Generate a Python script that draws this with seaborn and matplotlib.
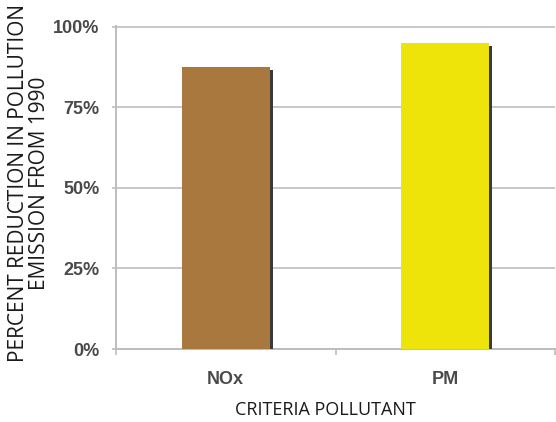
import matplotlib
matplotlib.use("Agg")
import matplotlib.pyplot as plt
from matplotlib.patches import Rectangle
from matplotlib.ticker import PercentFormatter
import seaborn as sns
import pandas as pd

# Data
pollutants = ["NOx", "PM"]
reduction = [0.874, 0.948]
bar_colors = ["#A8783F", "#EEE40A"]
y_ticks = [0, 0.25, 0.5, 0.75, 1.0]

sns.set_theme(style="white")
plt.rcParams["font.family"] = ["Open Sans", "DejaVu Sans"]

df = pd.DataFrame({"pollutant": pollutants, "reduction": reduction})

fig = plt.figure(figsize=(5.56, 4.22), dpi=100)
ax = fig.add_axes([116 / 556, 73 / 422, 439 / 556, 323 / 422])

sns.barplot(data=df, x="pollutant", y="reduction", hue="pollutant",
            palette=bar_colors, saturation=1, width=0.4, legend=False, ax=ax,
            edgecolor="none", linewidth=0, zorder=3)

# thin dark shadow along the right side of each bar
px = 1.0 / 219.5
for patch in ax.patches[:len(pollutants)]:
    x0 = patch.get_x() + patch.get_width()
    h = patch.get_height()
    ax.add_patch(Rectangle((x0, 0), 3 * px, h * 0.99, facecolor="#3a3a3a",
                           edgecolor="none", zorder=3))

ax.set_xlim(-0.5, 1.5)
ax.set_ylim(0, 1.002)
ax.set_yticks(y_ticks)
ax.yaxis.set_major_formatter(PercentFormatter(1.0, decimals=0))
ax.set_xticks([-0.5, 0.5, 1.5], minor=False)
ax.set_xticks([0, 1], minor=True)
ax.set_xticklabels(["", "", ""])
ax.set_xticklabels(pollutants, minor=True)

ax.grid(axis="y", color="#c8c8c8", linewidth=1.4, zorder=0)
ax.set_axisbelow(True)

for side in ["top", "right"]:
    ax.spines[side].set_visible(False)
for side in ["left", "bottom"]:
    ax.spines[side].set_color("#bdbdbd")
    ax.spines[side].set_linewidth(1.4)

ax.tick_params(axis="y", which="major", left=True, length=3, width=1.2,
               color="#bdbdbd", pad=9, labelsize=13, labelcolor="#4a4a4a")
ax.tick_params(axis="x", which="major", bottom=True, length=4, width=1.2,
               color="#bdbdbd")
ax.tick_params(axis="x", which="minor", bottom=False, pad=12, labelsize=13,
               labelcolor="#4a4a4a")
for lab in ax.get_yticklabels() + ax.get_xticklabels(minor=True):
    lab.set_fontfamily("Liberation Sans")
    lab.set_fontweight("bold")

ax.set_xlabel("CRITERIA POLLUTANT", fontsize=13, color="#1a1a1a")
ax.xaxis.set_label_coords(0.478, -0.19)
ax.xaxis.label.set_va("center")

ax.set_ylabel("PERCENT REDUCTION IN POLLUTION\nEMISSION FROM 1990",
              fontsize=15, color="#1a1a1a", linespacing=1.0,
              multialignment="center")
ax.yaxis.set_label_coords(-0.199, 0.514)
ax.yaxis.label.set_va("center")

fig.savefig("out.png", dpi=100)
